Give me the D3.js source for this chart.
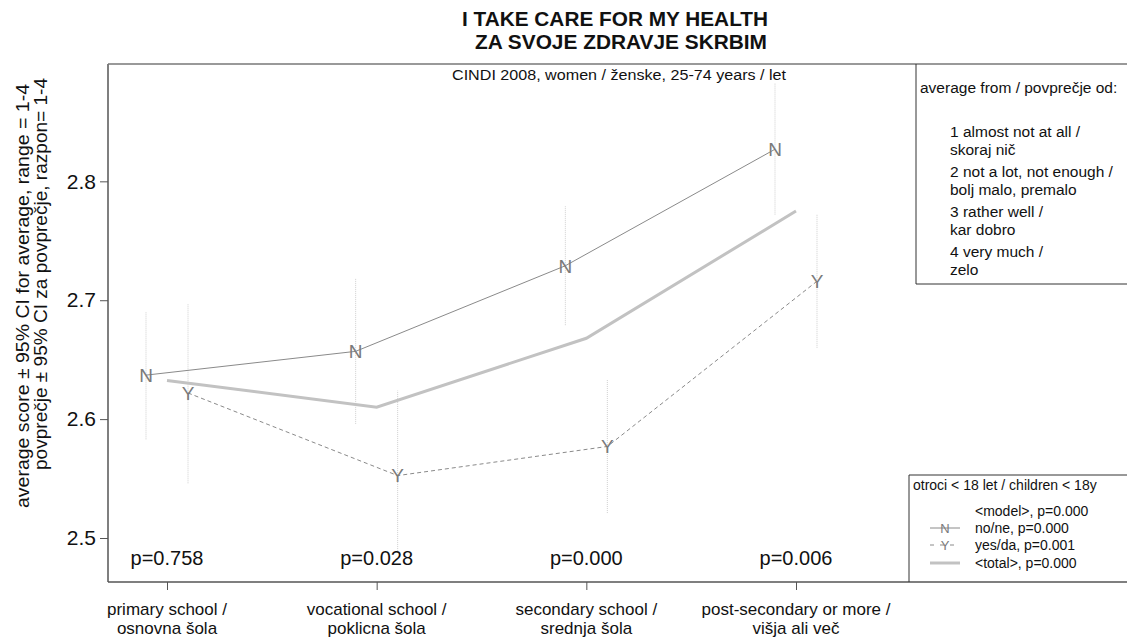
<!DOCTYPE html>
<html><head><meta charset="utf-8">
<script src="https://cdn.jsdelivr.net/npm/d3@7"></script>
<style>
html,body{margin:0;padding:0;background:#fff;}
svg text{font-family:"Liberation Sans",Arial,sans-serif;}
</style></head>
<body><svg id="c" width="1127" height="637"></svg>
<script>
const categories = [["primary school /","osnovna šola"],["vocational school /","poklicna šola"],["secondary school /","srednja šola"],["post-secondary or more /","višja ali več"]];
const noValues  = [2.637, 2.657, 2.729, 2.827];
const noLow     = [2.583, 2.596, 2.679, 2.772];
const noHigh    = [2.690, 2.718, 2.779, 2.883];
const yesValues = [2.622, 2.5525, 2.577, 2.716];
const yesLow    = [2.546, 2.489, 2.521, 2.660];
const yesHigh   = [2.697, 2.624, 2.633, 2.772];
const totalValues = [2.6325, 2.610, 2.668, 2.775];
const pValues = ["p=0.758","p=0.028","p=0.000","p=0.006"];
const yTicks = [2.5, 2.6, 2.7, 2.8];
const titleLines = ["I TAKE CARE FOR MY HEALTH","ZA SVOJE ZDRAVJE SKRBIM"];
const subtitle = "CINDI 2008, women / ženske, 25-74 years / let";
const yTitle = ["average score ± 95% CI for average, range = 1-4","povprečje  ± 95% CI za povprečje, razpon= 1-4"];
const infoLines = ["average from / povprečje od:","1 almost not at all /","skoraj nič","2 not a lot, not enough /","bolj malo, premalo","3 rather well /","kar dobro","4 very much /","zelo"];
const legendTitle = "otroci < 18 let / children < 18y";
const legendItems = ["<model>, p=0.000","no/ne, p=0.000","yes/da, p=0.001","<total>, p=0.000"];

const svg = d3.select("#c");
const L = 108, R = 1127, T = 64, B = 582;
const x = d3.scaleLinear().domain([0, 3]).range([167, 796]);
const y = d3.scaleLinear().domain([2.463, 2.8987]).range([B, T]);
const off = 21;
const idx = d3.range(categories.length);

// CI lines
function ci(lo, hi, dx){
  svg.append("g").selectAll("line").data(idx).join("line")
    .attr("x1", i => x(i)+dx).attr("x2", i => x(i)+dx)
    .attr("y1", i => y(lo[i])).attr("y2", i => y(hi[i]))
    .attr("stroke", "#cfcfcf").attr("stroke-width", 1).attr("stroke-dasharray", "1,1");
}
ci(noLow, noHigh, -off);
ci(yesLow, yesHigh, off);

// total line
svg.append("path").datum(idx)
  .attr("d", d3.line().x(i => x(i)).y(i => y(totalValues[i])))
  .attr("fill","none").attr("stroke","#c2c2c2").attr("stroke-width",3);
// no line
svg.append("path").datum(idx)
  .attr("d", d3.line().x(i => x(i)-off).y(i => y(noValues[i])))
  .attr("fill","none").attr("stroke","#8a8a8a").attr("stroke-width",1);
// yes line
svg.append("path").datum(idx)
  .attr("d", d3.line().x(i => x(i)+off).y(i => y(yesValues[i])))
  .attr("fill","none").attr("stroke","#8a8a8a").attr("stroke-width",1).attr("stroke-dasharray","4,3");

// markers
svg.append("g").selectAll("text").data(idx).join("text")
  .attr("x", i => x(i)-off).attr("y", i => y(noValues[i]))
  .attr("text-anchor","middle").attr("dy","0.36em")
  .attr("font-size",19).attr("fill","#7a7a7a").text("N");
svg.append("g").selectAll("text").data(idx).join("text")
  .attr("x", i => x(i)+off).attr("y", i => y(yesValues[i]))
  .attr("text-anchor","middle").attr("dy","0.36em")
  .attr("font-size",19).attr("fill","#7a7a7a").text("Y");

// p-values
svg.append("g").selectAll("text").data(idx).join("text")
  .attr("x", i => x(i)).attr("y", 565)
  .attr("text-anchor","middle").attr("font-size",20).attr("fill","#111").text(i => pValues[i]);

// y axis
const ya = svg.append("g").attr("transform",`translate(${L},0)`)
  .call(d3.axisLeft(y).tickValues(yTicks).tickSize(8).tickPadding(4).tickFormat(d3.format(".1f")));
ya.select(".domain").remove();
ya.selectAll(".tick line").attr("stroke","#555");
ya.selectAll(".tick text").attr("font-size",21).attr("fill","#111").attr("font-family","Liberation Sans, Arial, sans-serif");

// x axis
const xa = svg.append("g").attr("transform",`translate(0,${B})`)
  .call(d3.axisBottom(x).tickValues(idx).tickSize(8).tickFormat(""));
xa.select(".domain").remove();
xa.selectAll(".tick line").attr("stroke","#555");
const cl = svg.append("g").selectAll("text").data(idx).join("text")
  .attr("text-anchor","middle").attr("font-size",17).attr("fill","#111");
cl.append("tspan").attr("x", i => x(i)).attr("y", 615).text(i => categories[i][0]);
cl.append("tspan").attr("x", i => x(i)).attr("y", 634).text(i => categories[i][1]);

// frame
svg.append("line").attr("x1",L).attr("x2",L).attr("y1",T).attr("y2",B).attr("stroke","#555").attr("stroke-width",1.5);
svg.append("line").attr("x1",L).attr("x2",R).attr("y1",B).attr("y2",B).attr("stroke","#555").attr("stroke-width",1.5);
svg.append("line").attr("x1",L).attr("x2",R).attr("y1",T).attr("y2",T).attr("stroke","#777").attr("stroke-width",1.5);

// titles
svg.append("text").attr("x",615).attr("y",26).attr("text-anchor","middle").attr("font-weight","bold").attr("font-size",21).attr("fill","#111").attr("class","sq").attr("data-w",306).text(titleLines[0]);
svg.append("text").attr("x",621).attr("y",49).attr("text-anchor","middle").attr("font-weight","bold").attr("font-size",21).attr("fill","#111").attr("class","sq").attr("data-w",292).text(titleLines[1]);
svg.append("text").attr("x",619).attr("y",80).attr("text-anchor","middle").attr("font-size",14).attr("fill","#111").attr("class","sq").attr("data-w",334).text(subtitle);

// y title
svg.append("text").attr("transform","translate(29,296) rotate(-90)").attr("text-anchor","middle").attr("font-size",17.5).attr("fill","#111").attr("class","sq").attr("data-w",424).text(yTitle[0]);
svg.append("text").attr("transform","translate(47,274) rotate(-90)").attr("text-anchor","middle").attr("font-size",17.5).attr("fill","#111").attr("class","sq").attr("data-w",392).text(yTitle[1]);

// info box
svg.append("line").attr("x1",916).attr("x2",916).attr("y1",T).attr("y2",284).attr("stroke","#333");
svg.append("line").attr("x1",916).attr("x2",R).attr("y1",284).attr("y2",284).attr("stroke","#333");
const infoY = [93,137,155,177,195,217,235,257,275];
svg.append("g").selectAll("text").data(infoLines).join("text")
  .attr("x",(d,i) => i===0 ? 920 : 950).attr("y",(d,i) => infoY[i])
  .attr("font-size",15.5).attr("fill","#111").text(d => d);

// legend box
const LT = 475;
svg.append("line").attr("x1",909).attr("x2",909).attr("y1",LT).attr("y2",B).attr("stroke","#333");
svg.append("line").attr("x1",909).attr("x2",R).attr("y1",LT).attr("y2",LT).attr("stroke","#333");
svg.append("text").attr("x",913).attr("y",LT+15).attr("font-size",14).attr("fill","#111").text(legendTitle);
const ly = [511, 528, 545, 563];
svg.append("g").selectAll("text").data(legendItems).join("text")
  .attr("x",975).attr("y",(d,i)=>ly[i]+5).attr("font-size",14).attr("fill","#111").text(d=>d);
// symbols
svg.append("line").attr("x1",930).attr("x2",960).attr("y1",ly[1]).attr("y2",ly[1]).attr("stroke","#8a8a8a");
svg.append("text").attr("x",945).attr("y",ly[1]).attr("dy","0.36em").attr("text-anchor","middle").attr("font-size",13).attr("fill","#7a7a7a").text("N");
svg.append("line").attr("x1",930).attr("x2",960).attr("y1",ly[2]).attr("y2",ly[2]).attr("stroke","#8a8a8a").attr("stroke-dasharray","4,6");
svg.append("text").attr("x",945).attr("y",ly[2]).attr("dy","0.36em").attr("text-anchor","middle").attr("font-size",13).attr("fill","#7a7a7a").text("Y");
svg.append("line").attr("x1",930).attr("x2",960).attr("y1",ly[3]).attr("y2",ly[3]).attr("stroke","#c2c2c2").attr("stroke-width",3);

// horizontal squeeze of text to match target widths
svg.selectAll("text.sq").each(function(){
  const w = +this.getAttribute("data-w");
  if (w) { this.setAttribute("textLength", w); this.setAttribute("lengthAdjust","spacingAndGlyphs"); }
});
</script></body></html>
